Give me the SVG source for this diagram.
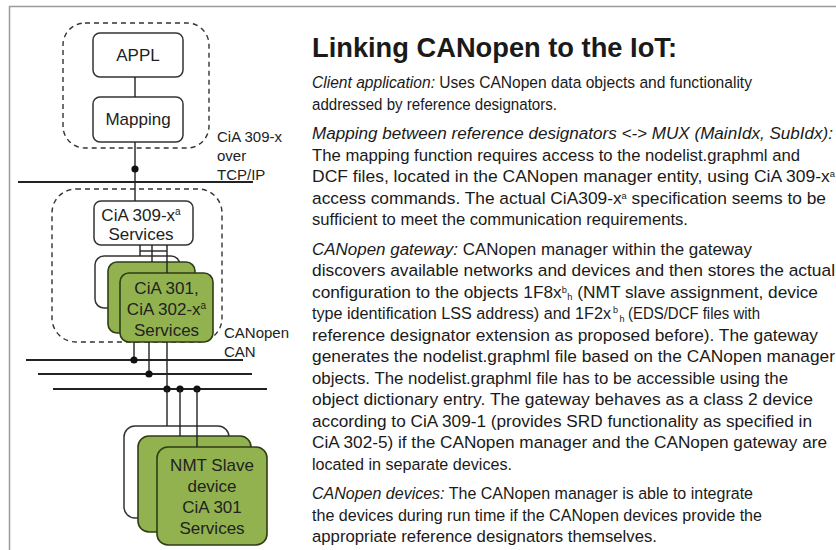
<svg xmlns="http://www.w3.org/2000/svg" width="836" height="550" viewBox="0 0 836 550">
<style>
.frame{stroke:#9a9a9a;stroke-width:1.5;fill:none}
.dash{fill:none;stroke:#333;stroke-width:1.4;stroke-dasharray:5,4}
.box{fill:#fff;stroke:#333;stroke-width:1.5}
.green{fill:#91b24f;stroke:#2f3d14;stroke-width:1.6}
.ln{stroke:#222;stroke-width:1.4;fill:none}
.bus{stroke:#222;stroke-width:1.8;fill:none}
.dot{fill:#111}
.dl{font-family:"Liberation Sans",Arial,sans-serif;font-size:17px;fill:#222;text-anchor:middle}
.lab{font-family:"Liberation Sans",Arial,sans-serif;font-size:15px;fill:#222}
.title{font-family:"Liberation Sans",Arial,sans-serif;font-size:28px;font-weight:bold;fill:#1a1a1a}
.body{font-family:"Liberation Sans",Arial,sans-serif;font-size:16.8px;fill:#1a1a1a}
.i{font-style:italic}
.s{font-size:9px}
</style>
<rect width="836" height="550" fill="#fff"/>
<g id="frame">
<line class="frame" x1="9" y1="6.5" x2="836" y2="6.5"/>
<line class="frame" x1="9.5" y1="6" x2="9.5" y2="550"/>
</g>
<g id="zones">
<rect class="dash" x="63" y="23" width="146" height="125" rx="22"/>
<rect class="dash" x="52" y="189" width="170" height="153" rx="24"/>
</g>
<g id="appl">
<rect class="box" x="93" y="33" width="90" height="44" rx="7"/>
<text class="dl" x="138" y="61">APPL</text>
</g>
<g id="mapping">
<rect class="box" x="93" y="97" width="90" height="45" rx="7"/>
<text class="dl" x="138" y="125">Mapping</text>
</g>
<g id="cia309">
<rect class="box" x="94" y="201" width="99" height="44" rx="7"/>
<text class="dl" x="141" y="221">CiA 309-x<tspan dy="-6" font-size="10">a</tspan></text>
<text class="dl" x="141" y="240">Services</text>
</g>
<g id="gateway">
<rect class="box" x="95" y="256" width="85" height="52" rx="9"/>
<rect class="green" x="108" y="262" width="87" height="71" rx="9"/>
<rect class="green" x="120" y="273" width="93" height="69" rx="9"/>
<text class="dl" x="166.5" y="294">CiA 301,</text>
<text class="dl" x="166.5" y="315">CiA 302-x<tspan dy="-6" font-size="10">a</tspan></text>
<text class="dl" x="166.5" y="336">Services</text>
</g>
<g id="devices">
<rect class="box" x="124" y="426" width="105" height="92" rx="11"/>
<rect class="green" x="138" y="436" width="113" height="96" rx="11"/>
<rect class="green" x="157" y="447" width="110" height="98" rx="11"/>
<text class="dl" x="212" y="471">NMT Slave</text>
<text class="dl" x="212" y="492">device</text>
<text class="dl" x="212" y="513">CiA 301</text>
<text class="dl" x="212" y="534">Services</text>
</g>
<g id="connectors">
<line class="ln" x1="135" y1="77" x2="135" y2="97"/>
<line class="ln" x1="135" y1="142" x2="135" y2="201"/>
<circle class="dot" cx="135" cy="169" r="3.6"/>
<line class="bus" x1="18" y1="182" x2="253" y2="182"/>
<line class="ln" x1="140" y1="245" x2="140" y2="256"/>
<line class="ln" x1="152" y1="245" x2="152" y2="262"/>
<line class="ln" x1="167" y1="245" x2="167" y2="273"/>
<line class="ln" x1="140" y1="251" x2="167" y2="251"/>
<line class="ln" x1="134" y1="342" x2="134" y2="360"/>
<line class="ln" x1="149" y1="342" x2="149" y2="374"/>
<line class="ln" x1="167" y1="342" x2="167" y2="389"/>
<line class="bus" x1="26" y1="360" x2="243" y2="360"/>
<line class="bus" x1="38" y1="374" x2="252" y2="374"/>
<line class="bus" x1="53" y1="389" x2="267" y2="389"/>
<circle class="dot" cx="134" cy="360" r="3.6"/>
<circle class="dot" cx="149" cy="374" r="3.6"/>
<circle class="dot" cx="167" cy="389" r="3.6"/>
<circle class="dot" cx="180" cy="389" r="3.6"/>
<circle class="dot" cx="197" cy="389" r="3.6"/>
<line class="ln" x1="167" y1="389" x2="167" y2="426"/>
<line class="ln" x1="180" y1="389" x2="180" y2="436"/>
<line class="ln" x1="197" y1="389" x2="197" y2="447"/>
</g>
<g id="labels">
<text class="lab" x="217" y="142">CiA 309-x</text>
<text class="lab" x="217" y="161">over</text>
<text class="lab" x="217" y="180">TCP/IP</text>
<text class="lab" x="224" y="338">CANopen</text>
<text class="lab" x="224" y="357">CAN</text>
</g>
<g id="text">
<text class="title" x="312" y="57" textLength="365" lengthAdjust="spacingAndGlyphs">Linking CANopen to the IoT:</text>
<text class="body" x="312" y="88" textLength="440" lengthAdjust="spacingAndGlyphs"><tspan class="i">Client application:</tspan> Uses CANopen data objects and functionality</text>
<text class="body" x="312" y="109.5" textLength="245" lengthAdjust="spacingAndGlyphs">addressed by reference designators.</text>
<text class="body i" x="312" y="139" textLength="521" lengthAdjust="spacingAndGlyphs">Mapping between reference designators &lt;-&gt; MUX (MainIdx, SubIdx):</text>
<text class="body" x="312" y="160.5" textLength="488" lengthAdjust="spacingAndGlyphs">The mapping function requires access to the nodelist.graphml and</text>
<text class="body" x="312" y="182" textLength="523" lengthAdjust="spacingAndGlyphs">DCF files, located in the CANopen manager entity, using CiA 309-x<tspan class="s" dy="-5">a</tspan></text>
<text class="body" x="312" y="203.5" textLength="514" lengthAdjust="spacingAndGlyphs">access commands. The actual CiA309-x<tspan class="s" dy="-5">a</tspan><tspan dy="5"> specification seems to be</tspan></text>
<text class="body" x="312" y="225" textLength="376" lengthAdjust="spacingAndGlyphs">sufficient to meet the communication requirements.</text>
<text class="body" x="312" y="254.5" textLength="440" lengthAdjust="spacingAndGlyphs"><tspan class="i">CANopen gateway:</tspan> CANopen manager within the gateway</text>
<text class="body" x="312" y="276" textLength="523" lengthAdjust="spacingAndGlyphs">discovers available networks and devices and then stores the actual</text>
<text class="body" x="312" y="297.5" textLength="506" lengthAdjust="spacingAndGlyphs">configuration to the objects 1F8x<tspan class="s" dy="-5">b</tspan><tspan class="s" dx="0.5" dy="7">h</tspan><tspan dy="-2"> (NMT slave assignment, device</tspan></text>
<text class="body" x="312" y="319" textLength="299" lengthAdjust="spacingAndGlyphs">type identification LSS address) and 1F2x</text>
<text class="body s" x="613" y="313">b</text>
<text class="body s" x="619.5" y="322">h</text>
<text class="body" x="628" y="319" textLength="132" lengthAdjust="spacingAndGlyphs">(EDS/DCF files with</text>
<text class="body" x="312" y="340.5" textLength="506" lengthAdjust="spacingAndGlyphs">reference designator extension as proposed before). The gateway</text>
<text class="body" x="312" y="362" textLength="523" lengthAdjust="spacingAndGlyphs">generates the nodelist.graphml file based on the CANopen manager</text>
<text class="body" x="312" y="383.5" textLength="476" lengthAdjust="spacingAndGlyphs">objects. The nodelist.graphml file has to be accessible using the</text>
<text class="body" x="312" y="405" textLength="501" lengthAdjust="spacingAndGlyphs">object dictionary entry. The gateway behaves as a class 2 device</text>
<text class="body" x="312" y="426.5" textLength="500" lengthAdjust="spacingAndGlyphs">according to CiA 309-1 (provides SRD functionality as specified in</text>
<text class="body" x="312" y="448" textLength="515" lengthAdjust="spacingAndGlyphs">CiA 302-5) if the CANopen manager and the CANopen gateway are</text>
<text class="body" x="312" y="469.5" textLength="200" lengthAdjust="spacingAndGlyphs">located in separate devices.</text>
<text class="body" x="312" y="499" textLength="441" lengthAdjust="spacingAndGlyphs"><tspan class="i">CANopen devices:</tspan> The CANopen manager is able to integrate</text>
<text class="body" x="312" y="520.5" textLength="450" lengthAdjust="spacingAndGlyphs">the devices during run time if the CANopen devices provide the</text>
<text class="body" x="312" y="542" textLength="345" lengthAdjust="spacingAndGlyphs">appropriate reference designators themselves.</text>
</g>
</svg>
